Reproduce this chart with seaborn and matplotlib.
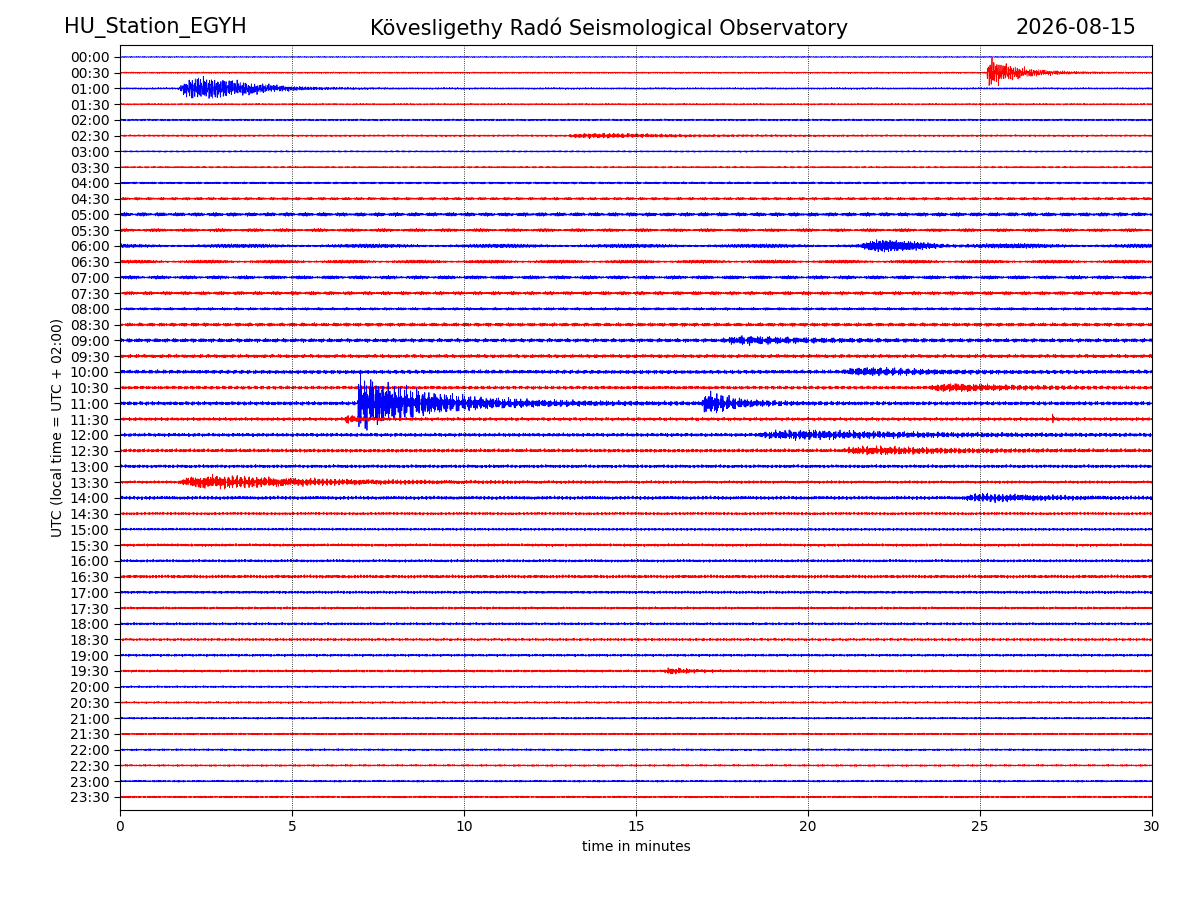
import numpy as np
import matplotlib.pyplot as plt
import seaborn as sns

station = "HU_Station_EGYH"
observatory = "Kövesligethy Radó Seismological Observatory"
date = "2026-08-15"
row_labels = [f"{h:02d}:{m:02d}" for h in range(24) for m in (0, 30)]

# background noise level per row (in row-spacing units)
noise = [0.04, 0.06, 0.07, 0.06, 0.07, 0.07, 0.06, 0.06, 0.08, 0.1,
         0.14, 0.12, 0.14, 0.12, 0.13, 0.13, 0.1, 0.13, 0.14, 0.13,
         0.14, 0.12, 0.14, 0.12, 0.13, 0.13, 0.12, 0.1, 0.13, 0.1,
         0.09, 0.1, 0.1, 0.12, 0.1, 0.09, 0.09, 0.09, 0.09, 0.09,
         0.07, 0.07, 0.07, 0.07, 0.07, 0.07, 0.07, 0.07]

# events: row, start minute, peak amplitude, decay (min), rise (min)
ev_row = [1, 2, 22, 22, 23, 27, 12, 24, 18, 20, 21, 25, 28, 5, 39, 23]
ev_start = [25.2, 1.7, 6.9, 16.9, 6.5, 1.7, 21.5, 18.5, 17.5, 21.0, 23.5, 21.0, 24.5, 13.0, 15.8, 27.1]
ev_amp = [1.3, 3.6, 2.3, 1.1, 0.5, 0.7, 0.6, 0.5, 0.45, 0.45, 0.5, 0.45, 0.45, 0.25, 0.4, 0.4]
ev_decay = [0.8, 1.0, 2.0, 0.8, 0.3, 3.0, 1.5, 3.0, 1.5, 1.5, 1.5, 2.0, 1.5, 2.0, 0.5, 0.05]
ev_rise = [0.02, 1.0, 0.02, 0.1, 0.1, 0.5, 0.5, 0.8, 0.5, 0.5, 0.5, 0.6, 0.5, 0.5, 0.2, 0.01]

sns.set_style("white")
plt.rcParams["text.color"] = "black"
plt.rcParams["axes.labelcolor"] = "black"
plt.rcParams["xtick.color"] = "black"
plt.rcParams["ytick.color"] = "black"
fig = plt.figure(figsize=(12, 9), dpi=100)
ax = fig.add_axes([0.1, 0.1, 0.86, 0.85])

t = np.linspace(0, 30, 4000)
for i in range(48):
    k = i + 1
    carrier = (np.sin(97.3 * k ** 0.3 * t) + 0.7 * np.sin(211.7 * t + k)
               + 0.5 * np.sin(353.1 * t + 2 * k) + 0.4 * np.sin(517.9 * t + 3 * k)) / 2.6
    env = np.full_like(t, noise[i])
    for r, s, a, d, ri in zip(ev_row, ev_start, ev_amp, ev_decay, ev_rise):
        if r == i:
            dt = np.clip(t - s, 0, None)
            env += np.where(t >= s, a * np.exp(-dt / d) * (1 - np.exp(-dt / ri)), 0)
    y = -i + env * carrier
    sns.lineplot(x=t, y=y, ax=ax, color="blue" if i % 2 == 0 else "red",
                 linewidth=0.6, estimator=None, sort=False)

ax.set_xlim(0, 30)
ax.set_ylim(-47.83, 0.76)
ax.set_yticks([-i for i in range(48)])
ax.set_yticklabels(row_labels)
ax.set_xticks(range(0, 31, 5))
for x in range(5, 30, 5):
    ax.axvline(x, color="black", linestyle=":", linewidth=0.6)
ax.tick_params(axis="both", direction="out", length=4, left=True, bottom=True, labelsize=10)
for s in ax.spines.values():
    s.set_color("black")
ax.set_xlabel("time in minutes")
ax.set_ylabel("UTC (local time = UTC + 02:00)")

fig.text(0.053, 0.969, station, fontsize=15, ha="left", va="center")
fig.text(0.508, 0.969, observatory, fontsize=15, ha="center", va="center")
fig.text(0.947, 0.969, date, fontsize=15, ha="right", va="center")

fig.savefig("out.png")
